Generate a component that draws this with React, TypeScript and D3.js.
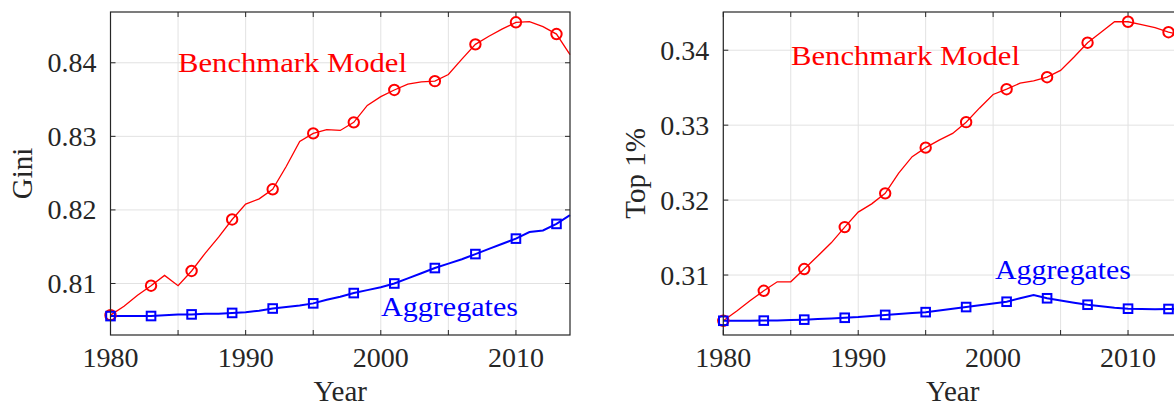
import React from "react";
import * as d3 from "d3";

// Annual years shown on both panels
const years: number[] = d3.range(1980, 2015);

// Gini coefficient, benchmark model vs. aggregates
const giniBenchmark: number[] = [
  0.8057, 0.8069, 0.8084, 0.8097, 0.8111, 0.8097, 0.8117, 0.8141, 0.8163, 0.8187,
  0.8208, 0.8215, 0.8228, 0.8259, 0.8293, 0.8304, 0.8309, 0.8308, 0.8319, 0.8342,
  0.8354, 0.8363, 0.8371, 0.8374, 0.8375, 0.8384, 0.8405, 0.8425, 0.8436, 0.8446,
  0.8455, 0.8456, 0.8449, 0.8439, 0.8411,
];
const giniAggregates: number[] = [
  0.80557, 0.80557, 0.80557, 0.80558, 0.8057, 0.8058, 0.8058, 0.8059, 0.8059, 0.806,
  0.8061, 0.8063, 0.8066, 0.8068, 0.807, 0.8073, 0.8078, 0.8082, 0.8087, 0.8091,
  0.8095, 0.81, 0.8107, 0.8114, 0.8121, 0.8127, 0.8133, 0.814, 0.8147, 0.8154,
  0.8161, 0.817, 0.8172, 0.8181, 0.8193,
];

// Top 1% wealth share, benchmark model vs. aggregates
const top1Benchmark: number[] = [
  0.3039, 0.3052, 0.3066, 0.3079, 0.3091, 0.3091, 0.3108, 0.31253, 0.3143, 0.3164,
  0.3184, 0.3195, 0.3209, 0.3236, 0.3258, 0.327, 0.328, 0.3289, 0.3304, 0.3323,
  0.3341, 0.3348, 0.3356, 0.3359, 0.3364, 0.3373, 0.3391, 0.341, 0.3424, 0.3438,
  0.3438, 0.3434, 0.343, 0.3424, 0.342,
];
const top1Aggregates: number[] = [
  0.3039, 0.3039, 0.3039, 0.30392, 0.30395, 0.304, 0.30405, 0.30412, 0.3042, 0.3043,
  0.3044, 0.30455, 0.30468, 0.3048, 0.30492, 0.30505, 0.30527, 0.3055, 0.30573, 0.30597,
  0.3062, 0.30644, 0.3069, 0.30733, 0.3069, 0.3066, 0.3063, 0.30604, 0.30585, 0.30565,
  0.30551, 0.30548, 0.30545, 0.30547, 0.3055,
];

// Markers every third year
const markerYears: number[] = [1980, 1983, 1986, 1989, 1992, 1995, 1998, 2001, 2004, 2007, 2010, 2013];

const xGridTicks: number[] = [1980, 1985, 1990, 1995, 2000, 2005, 2010];
const xTickLabels: number[] = [1980, 1990, 2000, 2010];
const giniTicks: number[] = [0.81, 0.82, 0.83, 0.84];
const top1Ticks: number[] = [0.31, 0.32, 0.33, 0.34];

const FONT = "'Liberation Serif', 'Times New Roman', serif";
const AXIS = "#262626";
const GRID = "#e2e2e2";
const RED = "#ff0000";
const BLUE = "#0000ff";

type PanelProps = {
  left: number;
  right: number;
  top: number;
  bottom: number;
  yDomain: [number, number];
  yTicks: number[];
  yLabel: string;
  yLabelX: number;
  benchmark: number[];
  aggregates: number[];
  benchLabel: { x: number; y: number; w: number };
  aggLabel: { x: number; y: number; w: number };
  clipId: string;
};

function Panel(p: PanelProps) {
  const x = d3.scaleLinear().domain([1980, 2014]).range([p.left, p.right]);
  const y = d3.scaleLinear().domain(p.yDomain).range([p.bottom, p.top]);
  const line = d3
    .line<number>()
    .x((_, i) => x(years[i]))
    .y((v) => y(v));
  const tickLen = 5;
  const idx = (yr: number) => years.indexOf(yr);

  return (
    <g>
      <defs>
        <clipPath id={p.clipId}>
          <rect x={p.left - 8} y={p.top - 8} width={p.right - p.left + 16} height={p.bottom - p.top + 16} />
        </clipPath>
      </defs>
      {/* grid */}
      {xGridTicks.map((t) => (
        <line key={"gx" + t} x1={x(t)} x2={x(t)} y1={p.top} y2={p.bottom} stroke={GRID} strokeWidth={1} />
      ))}
      {p.yTicks.map((t) => (
        <line key={"gy" + t} x1={p.left} x2={p.right} y1={y(t)} y2={y(t)} stroke={GRID} strokeWidth={1} />
      ))}
      {/* tick marks, inward on all four sides */}
      {xGridTicks.map((t) => (
        <g key={"tx" + t} stroke={AXIS} strokeWidth={1}>
          <line x1={x(t)} x2={x(t)} y1={p.bottom} y2={p.bottom - tickLen} />
          <line x1={x(t)} x2={x(t)} y1={p.top} y2={p.top + tickLen} />
        </g>
      ))}
      {p.yTicks.map((t) => (
        <g key={"ty" + t} stroke={AXIS} strokeWidth={1}>
          <line x1={p.left} x2={p.left + tickLen} y1={y(t)} y2={y(t)} />
          <line x1={p.right} x2={p.right - tickLen} y1={y(t)} y2={y(t)} />
        </g>
      ))}
      {/* series */}
      <g clipPath={`url(#${p.clipId})`}>
        <path d={line(p.benchmark) || ""} fill="none" stroke={RED} strokeWidth={1.3} />
        <path d={line(p.aggregates) || ""} fill="none" stroke={BLUE} strokeWidth={2} />
        {markerYears.map((yr) => (
          <circle
            key={"c" + yr}
            cx={x(yr)}
            cy={y(p.benchmark[idx(yr)])}
            r={5.2}
            fill="none"
            stroke={RED}
            strokeWidth={2}
          />
        ))}
        {markerYears.map((yr) => (
          <rect
            key={"s" + yr}
            x={x(yr) - 4.3}
            y={y(p.aggregates[idx(yr)]) - 4.3}
            width={8.6}
            height={8.6}
            fill="none"
            stroke={BLUE}
            strokeWidth={2}
          />
        ))}
      </g>
      {/* axes box */}
      <rect x={p.left} y={p.top} width={p.right - p.left} height={p.bottom - p.top} fill="none" stroke={AXIS} strokeWidth={1.2} />
      {/* tick labels */}
      {xTickLabels.map((t) => (
        <text key={"lx" + t} x={x(t)} y={p.bottom + 32} textAnchor="middle" fontSize={28} fill={AXIS} fontFamily={FONT}>
          {t}
        </text>
      ))}
      {p.yTicks.map((t) => (
        <text key={"ly" + t} x={p.left - 14} y={y(t) + 9.5} textAnchor="end" fontSize={28} fill={AXIS} fontFamily={FONT}>
          {t.toFixed(2)}
        </text>
      ))}
      {/* axis labels */}
      <text x={(p.left + p.right) / 2} y={p.bottom + 66} textAnchor="middle" fontSize={29} fill={AXIS} fontFamily={FONT}>
        Year
      </text>
      <text
        transform={`translate(${p.yLabelX},${(p.top + p.bottom) / 2}) rotate(-90)`}
        textAnchor="middle"
        fontSize={29}
        fill={AXIS}
        fontFamily={FONT}
      >
        {p.yLabel}
      </text>
      {/* series annotations */}
      <text x={p.benchLabel.x} y={p.benchLabel.y} fontSize={28} fill={RED} fontFamily={FONT} textLength={p.benchLabel.w} lengthAdjust="spacingAndGlyphs">
        Benchmark Model
      </text>
      <text x={p.aggLabel.x} y={p.aggLabel.y} fontSize={28} fill={BLUE} fontFamily={FONT} textLength={p.aggLabel.w} lengthAdjust="spacingAndGlyphs">
        Aggregates
      </text>
    </g>
  );
}

export default function App() {
  return (
    <svg
      width={1174}
      height={406}
      style={{ position: "fixed", left: 0, top: 0, background: "#ffffff", display: "block" }}
    >
      <rect x={0} y={0} width={1174} height={406} fill="#ffffff" />
      <Panel
        left={110.5}
        right={570}
        top={12}
        bottom={335}
        yDomain={[0.803, 0.8469]}
        yTicks={giniTicks}
        yLabel="Gini"
        yLabelX={32}
        benchmark={giniBenchmark}
        aggregates={giniAggregates}
        benchLabel={{ x: 178, y: 72, w: 229 }}
        aggLabel={{ x: 381, y: 316, w: 137 }}
        clipId="clip-gini"
      />
      <Panel
        left={723.3}
        right={1182}
        top={12}
        bottom={335}
        yDomain={[0.302, 0.3451]}
        yTicks={top1Ticks}
        yLabel="Top 1%"
        yLabelX={645}
        benchmark={top1Benchmark}
        aggregates={top1Aggregates}
        benchLabel={{ x: 791, y: 65, w: 229 }}
        aggLabel={{ x: 995, y: 279, w: 136 }}
        clipId="clip-top1"
      />
    </svg>
  );
}
